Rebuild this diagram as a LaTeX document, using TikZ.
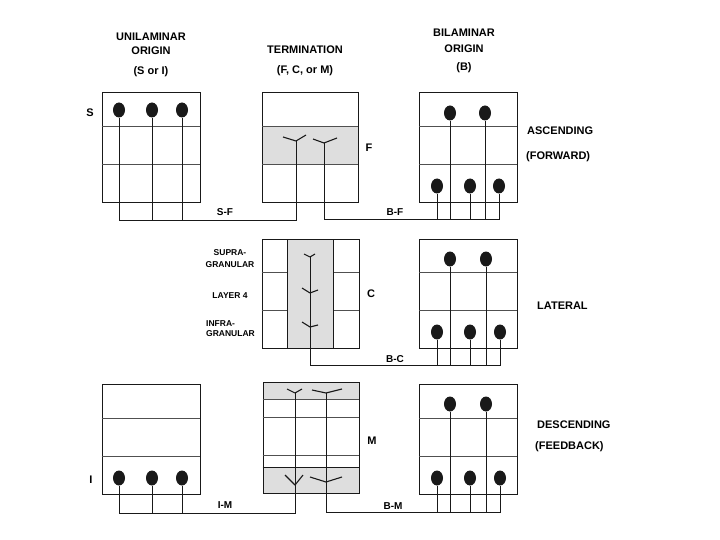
\documentclass[tikz,border=0pt]{standalone}
\usepackage{fontspec}
\setsansfont{Liberation Sans}
\usetikzlibrary{backgrounds, calc, positioning, shapes.geometric}
\definecolor{inkcol}{RGB}{25, 25, 25}
\definecolor{layercol}{RGB}{80, 80, 80}
\definecolor{shadecol}{RGB}{222, 222, 222}
\tikzset{
  area/.style    = {draw=inkcol, line width=0.9pt, inner sep=0pt,
                    minimum width=98pt, minimum height=110pt},
  column/.style  = {area, fill=shadecol, minimum width=46pt},
  layer/.style   = {draw=layercol, line width=0.7pt},
  band/.style    = {fill=shadecol},
  soma/.style    = {ellipse, fill=inkcol, inner sep=0pt,
                    minimum width=12pt, minimum height=15pt},
  axon/.style    = {draw=inkcol, line width=0.75pt},
  ending/.style  = {draw=inkcol, line width=1.1pt, line join=round},
  head/.style    = {font=\sffamily\bfseries\fontsize{11}{14}\selectfont,
                    align=center, inner sep=0pt, anchor=north},
  kind/.style    = {font=\sffamily\bfseries\fontsize{11}{13}\selectfont,
                    inner sep=0pt, anchor=base west},
  tag/.style     = {font=\sffamily\bfseries\fontsize{11}{13}\selectfont,
                    inner sep=0pt, anchor=base},
  route/.style   = {font=\sffamily\bfseries\fontsize{10}{12}\selectfont,
                    inner sep=0pt, anchor=base},
  lam/.style     = {font=\sffamily\bfseries\fontsize{8.5}{12}\selectfont,
                    inner sep=0pt},
}

\begin{document}
\begin{tikzpicture}[x=1pt, y=-1pt]
  \useasboundingbox (0,0) rectangle (720,540);

  %% ---------------- column heads ----------------
  \node[head] (unihead) at (151,32.5) {UNILAMINAR\\ORIGIN\\[6pt](S or I)};
  \node[head] (termhead) at (305,45.5) {TERMINATION\\[6pt](F, C, or M)};
  \node[head] (bihead) at (464,28.5) {BILAMINAR\\[2pt]ORIGIN\\[4pt](B)};

  %% ---------------- ascending: S-F and B-F ----------------
  \node[area] (sbox) at (151,147) {};
  \draw[layer] (sbox.north west) ++(0,35) -- ++(98,0);
  \draw[layer] (sbox.north west) ++(0,73) -- ++(98,0);

  \node[area, minimum width=96pt] (fbox) at (310.5,147) {};
  \begin{scope}[on background layer]
    \fill[band] (fbox.north west) ++(0,35) rectangle ++(96,38);
  \end{scope}
  \draw[layer] (fbox.north west) ++(0,35) -- ++(96,0);
  \draw[layer] (fbox.north west) ++(0,73) -- ++(96,0);

  \node[area] (bfbox) at (468.5,147) {};
  \draw[layer] (bfbox.north west) ++(0,35) -- ++(98,0);
  \draw[layer] (bfbox.north west) ++(0,73) -- ++(98,0);

  \node[soma] (s1) at (119,110) {};
  \node[soma] (s2) at (152,110) {};
  \node[soma] (s3) at (182,110) {};

  \node[soma] (bf1) at (450,113) {};
  \node[soma] (bf2) at (485,113) {};
  \node[soma] (bf3) at (437,186) {};
  \node[soma] (bf4) at (470,186) {};
  \node[soma] (bf5) at (499,186) {};

  \coordinate (fa) at (296,141);
  \coordinate (fb) at (324,143);
  \coordinate (sfbus) at (0,220);
  \coordinate (bfbus) at (0,219);

  \draw[ending] (fa) ++(-13,-4) -- (fa) -- ++(10,-6);
  \draw[ending] (fb) ++(-11,-4) -- (fb) -- ++(13,-5);

  \draw[axon] (s1) -- (s1 |- sfbus) -| (fa);
  \draw[axon] (s2) -- (s2 |- sfbus);
  \draw[axon] (s3) -- (s3 |- sfbus);

  \draw[axon] (fb) |- (bf5 |- bfbus) -- (bf5);
  \draw[axon] (bf1) -- (bf1 |- bfbus);
  \draw[axon] (bf2) -- (bf2 |- bfbus);
  \draw[axon] (bf3) -- (bf3 |- bfbus);
  \draw[axon] (bf4) -- (bf4 |- bfbus);

  \node[tag] (stag) at (90,117) {S};
  \node[tag] (ftag) at (369,152) {F};
  \node[route] (sfroute) at (225,215) {S-F};
  \node[route] (bfroute) at (395,215) {B-F};
  \node[kind] (asc) at (527,135) {ASCENDING};
  \node[kind] (fwd) at (526,160) {(FORWARD)};

  %% ---------------- lateral: B-C ----------------
  \node[area, minimum width=97pt, minimum height=109pt] (cbox) at (310.5,293.5) {};
  \draw[layer] (cbox.north west) ++(0,34) -- ++(97,0);
  \draw[layer] (cbox.north west) ++(0,72) -- ++(97,0);
  \node[column, minimum height=109pt] (ccol) at (310,293.5) {};

  \node[area, minimum height=109pt] (bcbox) at (468.5,293.5) {};
  \draw[layer] (bcbox.north west) ++(0,34) -- ++(98,0);
  \draw[layer] (bcbox.north west) ++(0,72) -- ++(98,0);

  \node[soma] (bc1) at (450,259) {};
  \node[soma] (bc2) at (486,259) {};
  \node[soma] (bc3) at (437,332) {};
  \node[soma] (bc4) at (470,332) {};
  \node[soma] (bc5) at (500,332) {};

  \coordinate (ca) at (310,257);
  \coordinate (cb) at (310,293);
  \coordinate (cc) at (310,327);
  \coordinate (bcbus) at (0,365);

  \draw[ending] (ca) ++(-6,-3) -- (ca) -- ++(5,-3);
  \draw[ending] (cb) ++(-8,-5) -- (cb) -- ++(8,-3);
  \draw[ending] (cc) ++(-8,-5) -- (cc) -- ++(8,-2);

  \draw[axon] (ca) |- (bc5 |- bcbus) -- (bc5);
  \draw[axon] (bc1) -- (bc1 |- bcbus);
  \draw[axon] (bc2) -- (bc2 |- bcbus);
  \draw[axon] (bc3) -- (bc3 |- bcbus);
  \draw[axon] (bc4) -- (bc4 |- bcbus);

  \node[lam, align=center, anchor=north] (supra) at (230,249) {SUPRA-\\GRANULAR};
  \node[lam, anchor=base] (four) at (230,298) {LAYER 4};
  \node[lam, align=left, anchor=north west] (infra) at (206,320)
       {INFRA-\\[-1.5pt]GRANULAR};
  \node[tag] (ctag) at (371,297) {C};
  \node[route] (bcroute) at (395,362) {B-C};
  \node[kind] (lat) at (537,309) {LATERAL};

  %% ---------------- descending: I-M and B-M ----------------
  \node[area] (ibox) at (151,439) {};
  \draw[layer] (ibox.north west) ++(0,35) -- ++(98,0);
  \draw[layer] (ibox.north west) ++(0,73) -- ++(98,0);

  \node[area, minimum width=96pt, minimum height=111pt] (mbox) at (311,437.5) {};
  \begin{scope}[on background layer]
    \fill[band] (mbox.north west) rectangle ++(96,18);
    \fill[band] (mbox.north west) ++(0,86) rectangle ++(96,25);
  \end{scope}
  \draw[layer] (mbox.north west) ++(0,18) -- ++(96,0);
  \draw[layer] (mbox.north west) ++(0,36) -- ++(96,0);
  \draw[layer] (mbox.north west) ++(0,74) -- ++(96,0);
  \draw[axon, line width=1.1pt] (mbox.north west) ++(0,86) -- ++(96,0);

  \node[area] (bmbox) at (468.5,439) {};
  \draw[layer] (bmbox.north west) ++(0,35) -- ++(98,0);
  \draw[layer] (bmbox.north west) ++(0,73) -- ++(98,0);

  \node[soma] (i1) at (119,478) {};
  \node[soma] (i2) at (152,478) {};
  \node[soma] (i3) at (182,478) {};

  \node[soma] (bm1) at (450,404) {};
  \node[soma] (bm2) at (486,404) {};
  \node[soma] (bm3) at (437,478) {};
  \node[soma] (bm4) at (470,478) {};
  \node[soma] (bm5) at (500,478) {};

  \coordinate (ma) at (295,393);
  \coordinate (mb) at (326,393);
  \coordinate (mc) at (295,485);
  \coordinate (md) at (326,482);
  \coordinate (imbus) at (0,513);
  \coordinate (bmbus) at (0,512);

  \draw[ending] (ma) ++(-8,-4) -- (ma) -- ++(7,-4);
  \draw[ending] (mb) ++(-14,-3) -- (mb) -- ++(16,-4);
  \draw[ending] (mc) ++(-10,-10) -- (mc) -- ++(8,-10);
  \draw[ending] (md) ++(-16,-5) -- (md) -- ++(16,-5);

  \draw[axon] (i1) -- (i1 |- imbus) -| (ma);
  \draw[axon] (i2) -- (i2 |- imbus);
  \draw[axon] (i3) -- (i3 |- imbus);

  \draw[axon] (mb) |- (bm5 |- bmbus) -- (bm5);
  \draw[axon] (bm1) -- (bm1 |- bmbus);
  \draw[axon] (bm2) -- (bm2 |- bmbus);
  \draw[axon] (bm3) -- (bm3 |- bmbus);
  \draw[axon] (bm4) -- (bm4 |- bmbus);

  \node[tag] (itag) at (91,483) {I};
  \node[tag] (mtag) at (372,444) {M};
  \node[route] (imroute) at (225,508) {I-M};
  \node[route] (bmroute) at (393,509) {B-M};
  \node[kind] (desc) at (537,428) {DESCENDING};
  \node[kind] (fdbk) at (535,449) {(FEEDBACK)};

\end{tikzpicture}
\end{document}
